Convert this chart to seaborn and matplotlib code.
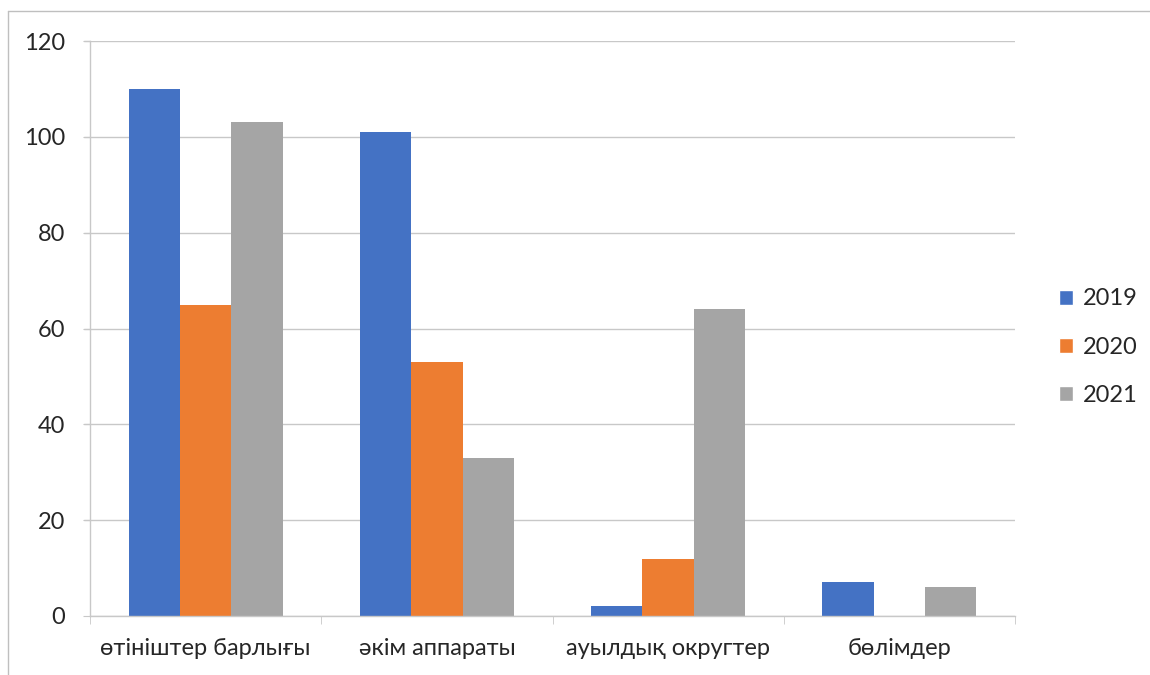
import numpy as np
import pandas as pd
import matplotlib.pyplot as plt
import seaborn as sns
from matplotlib.patches import Patch
from matplotlib.lines import Line2D

categories = ['өтініштер барлығы', 'әкім аппараты', 'ауылдық округтер', 'бөлімдер']
years = ['2019', '2020', '2021']
v2019 = [110, 101, 2, 7]
v2020 = [65, 53, 12, 0]
v2021 = [103, 33, 64, 6]
colors = ['#4472c4', '#ed7d31', '#a5a5a5']

df = pd.DataFrame({
    'category': categories * 3,
    'year': [y for y in years for _ in categories],
    'value': v2019 + v2020 + v2021,
})

sns.set_style('white')
plt.rcParams['font.family'] = ['Lato', 'DejaVu Sans']

fig = plt.figure(figsize=(11.5, 6.75), dpi=100)
ax = fig.add_axes([90 / 1150, 59 / 675, 925 / 1150, 575 / 675])

sns.barplot(data=df, x='category', y='value', hue='year', palette=colors,
            width=2 / 3, ax=ax, legend=False, saturation=1, edgecolor='none')

grid_c = '#c8c8c8'
ax.set_ylim(0, 120)
ax.set_xlim(-0.5, len(categories) - 0.5)
ax.set_yticks(np.arange(0, 121, 20))
ax.yaxis.grid(True, color=grid_c, linewidth=1)
ax.set_axisbelow(True)
for s in ['top', 'right']:
    ax.spines[s].set_visible(False)
for s in ['left', 'bottom']:
    ax.spines[s].set_color(grid_c)
    ax.spines[s].set_linewidth(1)

ax.tick_params(axis='y', length=5, color=grid_c, pad=13, labelsize=17, left=True)
ax.tick_params(axis='x', which='major', length=0, pad=16, labelsize=17)
ax.set_xticks(np.arange(-0.5, len(categories)), minor=True)
ax.tick_params(axis='x', which='minor', length=6, color=grid_c, bottom=True)
ax.set_xlabel('')
ax.set_ylabel('')

# grid lines stretch left over the tick marks like the original
for v in np.arange(20, 121, 20):
    fig.add_artist(Line2D([84 / 1150, 90 / 1150], [1 - (616 - v * 575 / 120) / 675] * 2,
                          color=grid_c, linewidth=1))

handles = [Patch(facecolor=c, label=y) for c, y in zip(colors, years)]
fig.legend(handles=handles, loc='center left', bbox_to_anchor=(1038 / 1150, 1 - 347 / 675),
           frameon=False, fontsize=17, handlelength=0.6, handleheight=0.6,
           handletextpad=0.4, labelspacing=1.15)

# outer chart border (partially visible)
fig.add_artist(Line2D([8 / 1150, 1], [1 - 11 / 675] * 2, color='#bfbfbf', linewidth=1))
fig.add_artist(Line2D([8 / 1150] * 2, [0, 1 - 11 / 675], color='#bfbfbf', linewidth=1))

fig.savefig('out.png', dpi=100)
